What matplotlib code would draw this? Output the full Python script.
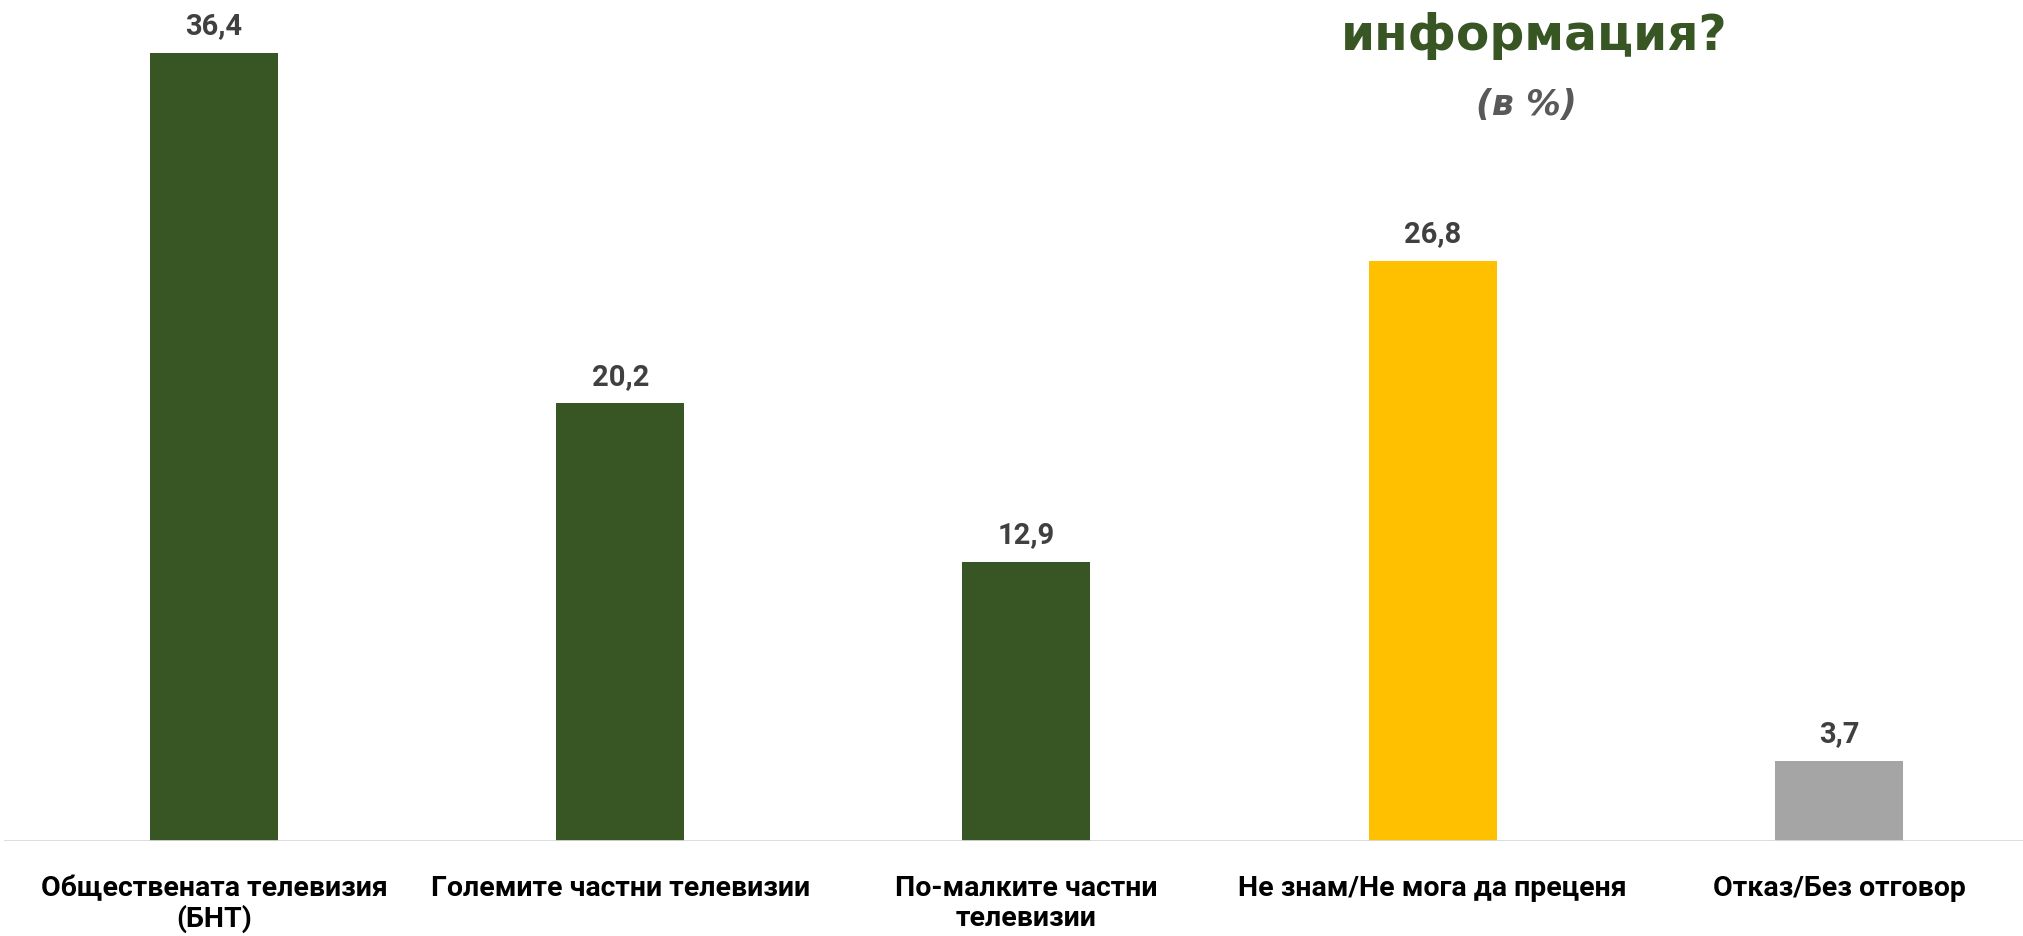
import numpy as np
import matplotlib.pyplot as plt
from matplotlib.patches import Arc

# data
categories = ['Обществената телевизия\n(БНТ)', 'Големите частни телевизии',
              'По-малките частни\nтелевизии', 'Не знам/Не мога да преценя',
              'Отказ/Без отговор']
values = [36.4, 20.2, 12.9, 26.8, 3.7]
value_labels = ['36,4', '20,2', '12,9', '26,8', '3,7']
bar_colors = ['#375623', '#375623', '#375623', '#FFC000', '#A5A5A5']

W, H = 2024, 937
fig = plt.figure(figsize=(W / 100, H / 100), dpi=100)
ax = fig.add_axes([0, 95 / H, 1, 842 / H])

x = np.arange(len(values))
step = 406.25
ax.set_xlim(-214 / step, (W - 214) / step)
ax.set_ylim(0, 842 / 21.66)

ax.bar(x, values, width=128 / step, color=bar_colors, zorder=2)
ax.axhline(0, xmin=5 / W, xmax=1, color='#D9D9D9', lw=2, zorder=3)

for xi, v, lab in zip(x, values, value_labels):
    ax.annotate(lab, (xi, v), xytext=(0, 14), textcoords='offset points',
                ha='center', va='baseline', fontsize=21, fontweight='bold',
                color='#404040', family='Roboto')

for s in ax.spines.values():
    s.set_visible(False)
ax.set_yticks([])
ax.set_xticks(x)
ax.set_xticklabels(categories, fontsize=20.5, fontweight='bold', family='Roboto',
                   color='black', linespacing=1.12)
ax.tick_params(axis='x', length=0, pad=24)

# faint watermark arcs
for r in [40, 55, 70, 85]:
    fig.patches.append(Arc((1165 / W, 975 / H), 2 * r / W, 2 * r / H,
                           theta1=20, theta2=160, transform=fig.transFigure,
                           color='#EFEFE2', lw=1.2))

# title (top part cut off in the original)
fig.text(1534 / W, 1 - 50 / H, 'информация?', ha='center', va='baseline',
         fontsize=35, fontweight='bold', color='#375623', family='DejaVu Sans')
fig.text(1526 / W, 1 - 115 / H, '(в %)', ha='center', va='baseline',
         fontsize=25, fontweight='bold', style='italic', color='#595959',
         family='DejaVu Sans')

fig.savefig('out.png', dpi=100)
